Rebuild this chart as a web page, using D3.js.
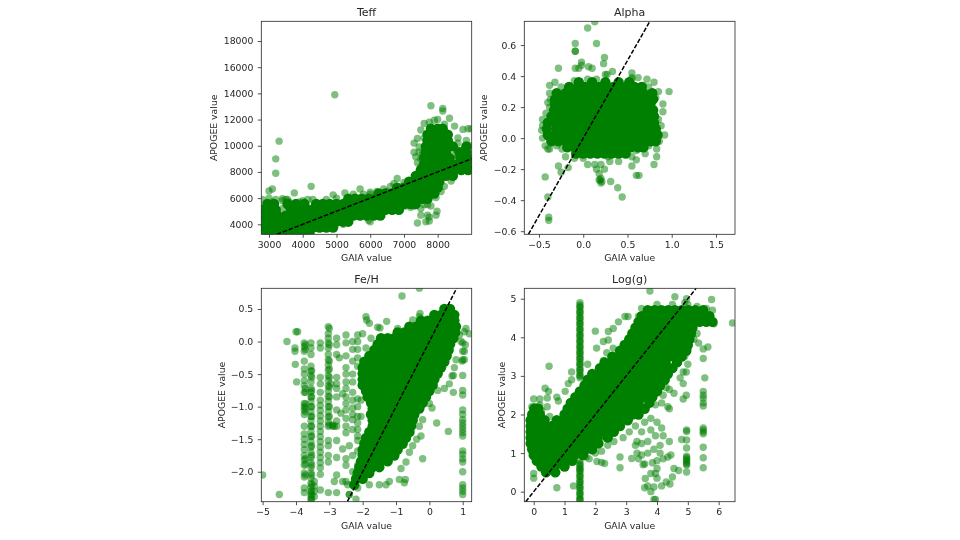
<!DOCTYPE html>
<html>
<head>
<meta charset="utf-8">
<script src="https://cdnjs.cloudflare.com/ajax/libs/d3/7.8.5/d3.min.js"></script>
<style>
  html, body { margin: 0; background: #fff; }
  svg { display: block; filter: blur(0.7px); }
  text { font-family: "DejaVu Sans", sans-serif; fill: #262626; }
</style>
</head>
<body>
<script>
const width = 960;
const height = 540;

const titles = ['Teff', 'Alpha', 'Fe/H', 'Log(g)'];

// overplotted core of each cloud: rows of [apogee, gaia, gaia, ...]
const teffDense = [
  [3300,2800,3000,3200,3400,3600,3800,4000,4200],
  [3750,2900,3100,3300,3500,3700,3900,4100,4300,4500,4700,4900],
  [4200,2800,3000,3200,3400,3600,3800,4000,4200,4400,4600,4800,5000,5200,5350],
  [4660,2850,3050,3250,3500,3700,3900,4100,4300,4500,4700,4900,5100,5300,5500,5700,5900,6100,6300],
  [5100,2800,3000,3200,3650,3850,4050,4250,4450,4650,4850,5050,5250,5450,5650,5850,6050,6250,6450,6650,6850],
  [5550,2950,3150,3550,3800,4050,4400,4600,4800,5000,5200,5400,5600,5800,6000,6200,6400,6600,6800,7000,7200,7350],
  [5950,5350,5550,5750,5950,6150,6350,6550,6750,6950,7150,7350,7550,7700],
  [6350,6250,6450,6650,6850,7050,7250,7450,7650,7900],
  [6800,6800,7000,7200,7400,7600,7800,8000],
  [7250,7150,7350,7550,7750,7950,8050],
  [7700,7350,7550,7750,7950,8050,8250,8450],
  [8150,7500,7700,7900,8100,8300,8500,8700,8900],
  [8600,7600,7800,8000,8200,8400,8600,8800,8950],
  [9050,7600,7800,8000,8200,8350,8700,8900],
  [9500,7650,7850,8050,8250,8650,8850],
  [9950,7650,7850,8050,8250,8450,8850],
  [10400,7700,7900,8100,8300],
  [10850,7700,7900,8100,8300],
  [11300,7800,8000,8150]
];
const alphaDense = [
  [0.36,-0.05,0.10,0.25,0.40,0.52],
  [0.33,-0.16,-0.06,0.02,0.10,0.18,0.26,0.34,0.42,0.50,0.58,0.66],
  [0.29,-0.30,-0.20,-0.12,-0.04,0.04,0.12,0.20,0.28,0.36,0.44,0.52,0.60,0.68,0.78],
  [0.25,-0.32,-0.24,-0.16,-0.08,0,0.08,0.16,0.24,0.32,0.40,0.48,0.56,0.64,0.72,0.79],
  [0.22,-0.32,-0.26,-0.20,-0.12,-0.04,0.04,0.12,0.20,0.28,0.36,0.44,0.52,0.60,0.68,0.76],
  [0.18,-0.33,-0.24,-0.16,-0.08,0,0.08,0.16,0.24,0.32,0.40,0.48,0.56,0.64,0.72,0.79],
  [0.14,-0.36,-0.28,-0.20,-0.12,-0.04,0.04,0.12,0.20,0.28,0.36,0.44,0.52,0.60,0.68,0.76,0.80],
  [0.10,-0.40,-0.32,-0.24,-0.16,-0.08,0,0.08,0.16,0.24,0.32,0.40,0.48,0.56,0.64,0.72,0.80],
  [0.06,-0.41,-0.30,-0.22,-0.14,-0.06,0.02,0.10,0.18,0.26,0.34,0.42,0.50,0.58,0.66,0.74,0.82],
  [0.02,-0.40,-0.32,-0.24,-0.16,-0.08,0,0.08,0.16,0.24,0.32,0.40,0.48,0.56,0.64,0.72,0.78,0.84],
  [-0.02,-0.36,-0.28,-0.20,-0.12,-0.04,0.04,0.12,0.20,0.28,0.36,0.44,0.52,0.60,0.68,0.76,0.82],
  [-0.06,-0.18,-0.10,-0.02,0.06,0.14,0.22,0.30,0.38,0.46,0.54,0.62,0.68],
  [-0.10,-0.08,0,0.08,0.16,0.24,0.32,0.40,0.48]
];
const feDense = [
  [0.50,0.45,0.62],
  [0.41,0.15,0.35,0.55,0.75],
  [0.32,-0.25,-0.05,0.15,0.35,0.55,0.75],
  [0.23,-0.6,-0.4,-0.2,0,0.2,0.4,0.6,0.8],
  [0.14,-0.95,-0.75,-0.55,-0.35,-0.15,0.05,0.25,0.45,0.65,0.78],
  [0.05,-1.45,-1.25,-1.05,-0.85,-0.65,-0.45,-0.25,-0.05,0.15,0.35,0.55,0.72],
  [-0.04,-1.55,-1.35,-1.15,-0.95,-0.75,-0.55,-0.35,-0.15,0.05,0.25,0.45,0.62],
  [-0.13,-1.65,-1.45,-1.25,-1.05,-0.85,-0.65,-0.45,-0.25,-0.05,0.15,0.35,0.58],
  [-0.22,-1.8,-1.6,-1.4,-1.2,-1,-0.8,-0.6,-0.4,-0.2,0,0.2,0.4,0.52],
  [-0.31,-1.95,-1.75,-1.55,-1.35,-1.15,-0.95,-0.75,-0.55,-0.35,-0.15,0.05,0.25,0.45],
  [-0.40,-2,-1.8,-1.6,-1.4,-1.2,-1,-0.8,-0.6,-0.4,-0.2,0,0.2,0.35],
  [-0.49,-2,-1.85,-1.65,-1.45,-1.25,-1.05,-0.85,-0.65,-0.45,-0.25,-0.05,0.15,0.25],
  [-0.58,-2,-1.8,-1.6,-1.4,-1.2,-1,-0.8,-0.6,-0.4,-0.2,0,0.15],
  [-0.67,-2,-1.85,-1.65,-1.45,-1.25,-1.05,-0.85,-0.65,-0.45,-0.25,-0.05,0.1],
  [-0.76,-1.9,-1.7,-1.5,-1.3,-1.1,-0.9,-0.7,-0.5,-0.3,-0.1,0],
  [-0.85,-1.85,-1.65,-1.45,-1.25,-1.05,-0.85,-0.65,-0.45,-0.25,-0.1],
  [-0.94,-1.75,-1.55,-1.35,-1.15,-0.95,-0.75,-0.55,-0.35,-0.2],
  [-1.03,-1.7,-1.5,-1.3,-1.1,-0.9,-0.7,-0.5,-0.3],
  [-1.12,-1.75,-1.55,-1.35,-1.15,-0.95,-0.75,-0.55,-0.45],
  [-1.21,-1.7,-1.5,-1.3,-1.1,-0.9,-0.7,-0.5],
  [-1.30,-1.7,-1.55,-1.35,-1.15,-0.95,-0.75,-0.55],
  [-1.39,-1.8,-1.6,-1.4,-1.2,-1,-0.8,-0.6],
  [-1.48,-1.9,-1.7,-1.5,-1.3,-1.1,-0.9,-0.7],
  [-1.57,-1.95,-1.75,-1.55,-1.35,-1.15,-0.95,-0.8],
  [-1.66,-2,-1.8,-1.6,-1.4,-1.2,-1,-0.95],
  [-1.75,-2,-1.85,-1.65,-1.45,-1.25,-1.05],
  [-1.84,-2.05,-1.85,-1.65,-1.45,-1.25],
  [-1.93,-2.1,-1.9,-1.7,-1.5],
  [-2.02,-2.15,-1.95,-1.8],
  [-2.11,-2.2,-2],
  [-2.20,-2.25]
];
const loggDense = [
  [4.70,3.7,3.92,4.14,4.36,4.58,4.8,5.02,5.24,5.5],
  [4.55,3.5,3.72,3.94,4.16,4.38,4.6,4.82,5.04,5.26,5.48,5.7],
  [4.40,3.4,3.62,3.84,4.06,4.28,4.5,4.72,4.94,5.16,5.38,5.6,5.8],
  [4.25,3.3,3.52,3.74,3.96,4.18,4.4,4.62,4.84,5.15],
  [4.10,3.2,3.42,3.64,3.86,4.08,4.3,4.52,4.74,4.96,5.1],
  [3.95,3.1,3.32,3.54,3.76,3.98,4.2,4.42,4.64,4.86,5.05],
  [3.80,2.95,3.17,3.39,3.61,3.83,4.05,4.27,4.49,4.71,5],
  [3.65,2.8,3.02,3.24,3.46,3.68,3.9,4.12,4.34,4.56,4.78,4.95],
  [3.50,2.55,2.77,2.99,3.21,3.43,3.65,3.87,4.09,4.31,4.53,4.8],
  [3.35,2.3,2.52,2.74,2.96,3.18,3.4,3.62,3.84,4.06,4.28,4.65],
  [3.20,2.15,2.37,2.59,2.81,3.03,3.25,3.47,3.69,3.91,4.13,4.35,4.5],
  [3.05,1.9,2.12,2.34,2.56,2.78,3,3.22,3.44,3.66,3.88,4.1,4.35],
  [2.90,1.75,1.97,2.19,2.41,2.63,2.85,3.07,3.29,3.51,3.73,3.95,4.25],
  [2.75,1.65,1.87,2.09,2.31,2.53,2.75,2.97,3.19,3.41,3.63,3.85,4.1],
  [2.60,1.5,1.72,1.94,2.16,2.38,2.6,2.82,3.04,3.26,3.48,3.7,4],
  [2.45,1.35,1.57,1.79,2.01,2.23,2.45,2.67,2.89,3.11,3.33,3.55,3.85],
  [2.30,1.2,1.42,1.64,1.86,2.08,2.3,2.52,2.74,2.96,3.18,3.4,3.75],
  [2.15,0.02,0.15,1.1,1.32,1.54,1.76,1.98,2.2,2.42,2.64,2.86,3.08,3.3,3.6],
  [2.00,-0.05,0.2,1,1.22,1.44,1.66,1.88,2.1,2.32,2.54,2.76,2.98,3.2,3.4],
  [1.85,-0.1,0.1,0.35,0.75,0.97,1.19,1.41,1.63,1.85,2.07,2.29,2.51,2.73,3.05],
  [1.70,-0.1,0.12,0.4,0.6,0.82,1.04,1.26,1.48,1.7,1.92,2.14,2.36,2.58,2.8],
  [1.55,-0.1,0.12,0.34,0.56,0.78,1,1.22,1.44,1.66,1.88,2.1,2.32,2.6],
  [1.40,-0.1,0.1,0.32,0.54,0.76,0.98,1.2,1.42,1.64,1.86,2.08,2.4],
  [1.25,-0.1,0.12,0.34,0.56,0.78,1,1.22,1.44,1.66,1.88,2.1],
  [1.10,-0.05,0.15,0.37,0.59,0.81,1.03,1.25,1.47,1.69,1.9],
  [0.95,0,0.22,0.44,0.66,0.88,1.1,1.32,1.6],
  [0.80,0.1,0.32,0.54,0.76,0.98,1.25],
  [0.65,0.25,0.47,0.69,1],
  [0.50,0.4,0.7]
];

// single points around the cores: [gaia, apogee]
const teffScatter = [
  [4950,13900],[3300,10350],[3200,9000],[3200,7900],[7800,13050],[8150,12850],[8150,12650],[8350,12100],
  [8500,11500],[7600,11700],[7750,11800],[7900,11950],[8000,12000],[8200,11650],[7400,10550],[7300,10200],
  [7300,9500],[7350,9150],[7400,8700],[7500,8400],[7450,9900],[7550,9400],[7600,10600],[7500,11200],
  [8750,11250],[8900,11300],[8990,11300],[8600,10200],[8800,9800],[8850,10400],[8950,10000],[8600,9200],
  [7400,4100],[7500,4700],[7650,4200],[7700,4700],[7750,4250],[7750,4550],[7950,4700],[7980,5000],
  [7600,5500],[7700,5500],[7800,5400],[7500,5200],[7250,5500],[7300,5400],[4250,6900],[3750,6400],
  [3100,6700],[3000,6550],[2800,5900],[3400,5950],[3000,6000],[3100,5700],[3200,5900],[3500,5900],
  [3600,5700],[3900,5700],[4300,5900],[4500,5600],[4900,6250],[5250,6400],[5700,6700],[6000,6450],
  [6500,6500],[6800,7500],[6700,7100],[7000,7200],[6300,6350],[5200,4000],[4950,4200],[5950,4300],
  [6000,4200],[6300,4800],[6800,5050],[7050,5400],[7200,5300],[3000,5300],[3400,5200],[3700,5000],
  [3500,4500],[3300,4700],[8200,6900],[8100,6500],[8400,7300],[8700,8150],[8900,8300],[7950,6050],
  [3400,5800],[3550,5900],[4000,5800],[4150,5900],[4350,5600],[4700,5900],[5000,6000],[5500,6300],
  [5800,6300],[6200,6500],[6000,6300],[6600,6900],[6400,6700],[7500,9000],[7450,9500],[8500,8950],
  [8600,10600],[8500,9300],[8550,9700]
];
const alphaScatter = [
  [0.13,0.75],[0.05,0.71],[-0.09,0.61],[0.15,0.61],[-0.09,0.56],[-0.09,0.56],[0.24,0.52],[0.23,0.48],
  [-0.02,0.49],[-0.02,0.47],[-0.05,0.45],[-0.09,0.45],[-0.28,0.45],[0.06,0.46],[0.10,0.45],[0.25,0.41],
  [0.27,0.41],[0.33,0.43],[0.55,0.42],[0.55,0.39],[0.55,0.38],[0.62,0.39],[0.72,0.38],[0.80,0.36],
  [0.97,0.30],[0.90,0.22],[0.90,0.17],[0.85,0.30],[-0.38,0.34],[-0.32,0.36],[-0.25,0.33],[-0.10,0.37],
  [0.05,0.38],[0.15,0.38],[-0.38,0.29],[-0.40,0.23],[-0.38,0.20],[-0.46,0.12],[-0.46,0.08],[-0.47,0.05],
  [-0.46,0],[-0.43,-0.05],[-0.40,-0.07],[-0.38,-0.07],[0.88,0.08],[0.92,0.02],[0.83,0.05],[0.83,-0.07],
  [0.83,-0.12],[0.80,-0.17],[0.60,-0.08],[0.55,-0.12],[0.70,-0.10],[0.60,-0.14],[0.55,-0.18],[0.60,-0.24],
  [0.63,-0.24],[0.28,-0.12],[0.30,-0.15],[0.40,-0.15],[0.05,-0.17],[0.13,-0.17],[0.20,-0.17],[-0.28,-0.18],
  [-0.25,-0.22],[-0.17,-0.19],[-0.20,-0.12],[-0.10,-0.13],[0,-0.13],[0.15,-0.20],[0.24,-0.20],[0.18,-0.23],
  [0.20,-0.26],[0.19,-0.27],[0.20,-0.29],[0.31,-0.28],[0.39,-0.32],[0.44,-0.38],[-0.43,-0.25],[-0.40,-0.38],
  [-0.39,-0.51],[-0.39,-0.53],[0.18,-0.27],[0.21,-0.28],[-0.30,-0.05],[-0.24,-0.07],[0.74,-0.05],[0.82,0.26],
  [0.85,0.12],[0.86,-0.02],[-0.37,0.25],[-0.42,0.16],[0.68,0.34],[0.74,0.33]
];
const feScatter = [
  [-5,-2.05],[-4.5,-2.35],[-4.27,0],[-4,0.15],[-3.95,0.15],[-3.98,-0.62],[-4.02,-0.35],[-4.03,-0.1],[-4.03,-0.15],
  [-2.9,-1.3],[-0.3,0.82],[-0.82,0.7],[-1.9,0.38],[-1.88,0.33],[-1.8,0.28],[-1.55,0.22],[-1.48,0.21],[-1.28,0.31],
  [-0.5,0.33],[-0.28,0.43],[-0.3,0.38],[-0.95,0.2],[1.1,0.2],[1.2,0.12],[1.05,0.15],[0.9,0.1],[0.95,0],
  [1.08,-0.05],[1.05,-0.15],[1.05,-0.28],[0.98,-0.3],[0.8,-0.28],[0.75,-0.4],[0.72,-0.52],[0.68,-0.53],[0.6,-0.65],
  [0.72,-0.78],[0.45,-0.72],[0.25,-0.75],[0.08,-1.02],[0.22,-1.25],[0.57,-1.38],[0,-0.95],[-0.2,-1.2],[-0.38,-1],
  [-0.25,-1.45],[-0.38,-1.5],[-0.5,-1.6],[-0.2,-1.8],[-0.6,-1.7],[-0.7,-1.85],[-0.85,-1.95],[-0.72,-2.12],[-0.9,-2.12],
  [-0.75,-2.17],[-1.2,-2.15],[-1.3,-2.2],[-1.5,-2.2],[-1.8,-2.2],[-2.2,-2.42],[-2.4,-2.35],[-2.4,-2.35],[-2.6,-2.15],
  [-2.45,-2.2],[-2.85,-2.15],[-2.6,-1.65],[-2.4,-1.6],[-2.7,-0.25],[-1.9,-0.1],[-1.75,0.05],[-2.0,0.12],
  [-2.9,-1.28],[-2.85,-1.3],[-2.95,-0.65],[-2.65,-1.1],[-2.6,-0.8],[-2.05,-1.15],[-2.05,-0.9],[-0.55,-1.4],[-0.3,-1.3]
];
const loggScatter = [
  [0.5,3.25],[1.23,3.1],[1.23,2.9],[1.12,2.8],[1.02,2.6],[0,2.4],[-0.06,2.2],[0.04,2.2],[0.2,2.4],[0.37,2.68],
  [0.48,2.6],[0.44,2.43],[0.75,2.45],[0.8,2.35],[0.26,2.1],[0.52,1.95],[0.2,2.25],[0.44,2.2],[2,4.16],[2.42,3.93],
  [2.26,3.89],[2.58,4.23],[2.42,4.15],[2.75,4.4],[2.96,4.54],[3.06,4.54],[2.04,3.72],[2.37,3.6],[2.58,3.72],[2.26,3.4],
  [1.75,3.3],[0.75,0.1],[1.29,0.15],[0,0.47],[0,0.35],[2.8,0.62],[2.3,0.73],[2.2,0.76],[2.05,0.78],[2.8,0.9],
  [3.18,0.86],[3.35,1.0],[3.35,1.3],[3.6,0.1],[3.7,0.15],[3.8,0],[3.9,0.12],[4.15,0.15],[4.3,0.25],[4.42,0.2],
  [4,0.35],[4.5,0.38],[3.62,0.34],[3.8,0.47],[3.95,0.47],[4,0.6],[4.55,0.6],[4.7,0.55],[3.55,0.7],[3.6,0.72],
  [3.85,0.75],[4,0.8],[4.2,0.85],[4.35,0.9],[4.45,0.95],[3.4,0.85],[3.5,0.95],[3.7,1],[3.9,1.1],[4.1,1.2],
  [4.1,1],[4.4,1.3],[3.3,1.2],[3.5,1.25],[3.7,1.3],[3.95,1.45],[4.2,1.45],[4.15,1.65],[3.8,1.6],[3.5,1.55],
  [3.3,1.7],[3.1,1.55],[2.9,1.4],[3.6,1.8],[4,1.8],[4.8,1.35],[3.9,-0.2],[3.95,-0.2],[4.75,2.95],[4.85,2.8],
  [4.85,3.1],[4.95,3.1],[4.95,2.5],[4.85,2.4],[5,3.3],[5,3.7],[4.9,3.5],[4.3,2.7],[4.2,2.5],[4.4,2.65],
  [4.55,2.55],[4.15,2.3],[3.95,2.25],[4.35,2.2],[4.4,2.15],[3.8,1.9],[5.2,3.95],[5.35,3.85],[5.5,3.7],[5.65,3.75],
  [5.5,3.45],[5.55,2.95],[5.3,4.1],[5.85,4.35],[5.1,4.3],[3.4,4.55],[3.5,4.75],[4,4.85],[4.5,4.85],[5,4.85],
  [5.3,4.8],[5.6,4.75],[5.8,4.7],[6.45,4.37],[5.77,4.98],[4.58,5.05],[4.96,5],[3.77,5.2],[4.9,4.9],
  [2.6,1.3],[2.4,1.2],[2.2,1.05],[2,1],[1.8,0.85],[1.5,0.6],[1.7,0.9]
];

// near vertical strips of points at repeated gaia values: [gaia, apogee, apogee, ...]
const teffStrips = [];
const alphaStrips = [];
const feStrips = [
  [-3.75,-0.02,-0.08,-0.15,-0.3,-0.42,-0.5,-0.6,-0.68,-0.78,-0.95,-1,-1.05,-1.12,-1.3,-1.42,-1.5,-1.58,-1.66,-1.75,-1.82,-1.9,-2.02,-2.08,-2.25,-2.32],
  [-3.72,-0.05,-0.12,-0.72,-0.78,-0.96,-1.02,-1.08,-1.8,-1.88,-2.05],
  [-3.55,-0.02,-0.1,-0.2,-0.38,-0.45,-0.52,-0.62,-0.72,-0.78,-0.85,-0.92,-1,-1.08,-1.15,-1.22,-1.3,-1.38,-1.46,-1.54,-1.62,-1.7,-1.78,-1.86,-1.94,-2.02,-2.1,-2.18,-2.24,-2.3,-2.35,-2.4,-2.44],
  [-3.53,-0.45,-0.55,-0.75,-0.85,-1,-1.15,-1.3,-1.45,-1.6,-1.75,-1.9,-2.05,-2.2,-2.3,-2.36,-2.42],
  [-3.45,-2.15,-2.22,-2.3,-2.38],
  [-3.27,-0.02,-0.1,-0.55,-0.65,-0.78,-0.9,-0.98,-1.06,-1.14,-1.22,-1.3,-1.38,-1.46,-1.54,-1.62,-1.7,-1.78,-1.86,-1.94,-2.04,-2.28],
  [-3.03,0.23,0.12,0.05,-0.02,-0.1,-0.2,-0.28,-0.36,-0.44,-0.52,-0.6,-0.68,-0.76,-0.84,-0.92,-1,-1.08,-1.16,-1.24,-1.3,-1.52,-1.6,-1.75,-1.85,-2.32],
  [-3,0.2,-0.05,-0.3,-0.42,-0.55,-0.7,-0.85,-1,-1.15,-1.28],
  [-2.78,0.05,-0.05,-0.2,-0.55,-0.65,-0.72,-0.85,-1.05,-1.22,-1.3,-1.52,-1.78,-2.05,-2.32],
  [-2.5,0.1,-0.02,-0.22,-0.4,-0.5,-0.62,-0.72,-0.85,-0.95,-1.05,-1.18,-1.3,-1.4,-1.8,-1.9,-2.15],
  [-2.3,0,-0.12,-0.3,-0.5,-0.62,-0.78,-0.9,-1.02,-1.12,-1.2,-1.35,-1.75,-2,-2.2],
  [-2.15,0.1,0,-0.12,-0.25,-0.38,-0.88,-1,-1.15,-1.25,-1.35,-1.45,-1.52,-1.68,-1.9,-2.05,-2.25],
  [1,-0.02,-0.15,-0.28,-0.52,-0.75,-0.82,-1.05,-1.12,-1.2,-1.25,-1.3,-1.35,-1.4,-1.45,-1.68,-1.73,-1.8,-1.85,-2,-2.2,-2.25,-2.3,-2.35]
];
const loggStrips = [
  [1.5,4.9,4.84,4.77,4.7,4.63,4.56,4.49,4.42,4.35,4.28,4.21,4.14,4.07,4,3.93,3.86,3.79,3.72,3.65,3.58,3.51,3.44,3.37,3.3,3.23,3.16,3.09,3.02,2.95,
    0.8,0.73,0.66,0.59,0.52,0.45,0.38,0.31,0.24,0.17,0.1,0.03,-0.04,-0.11,-0.18,-0.22],
  [1.5,4.8,4.65,4.5,4.35,4.2,4.05,3.9,3.75,3.6,3.45,3.3,3.15,3,0.7,0.55,0.4,0.25,0.1,-0.05,-0.2],
  [5.5,2.6,2.5,2.42,2.3,2.22,1.65,1.6,1.55,1.5,1.15,0.88,0.62],
  [4.96,1.6,1.56,1.34,1.13,0.92,0.88,0.84,0.8,0.76,0.72,0.69,0.51]
];

const teffXTicks = [3000, 4000, 5000, 6000, 7000, 8000];
const teffYTicks = [4000, 6000, 8000, 10000, 12000, 14000, 16000, 18000];
const alphaXTicks = [-0.5, 0, 0.5, 1, 1.5];
const alphaYTicks = [-0.6, -0.4, -0.2, 0, 0.2, 0.4, 0.6];
const feXTicks = [-5, -4, -3, -2, -1, 0, 1];
const feYTicks = [-2, -1.5, -1, -0.5, 0, 0.5];
const loggXTicks = [0, 1, 2, 3, 4, 5, 6];
const loggYTicks = [0, 1, 2, 3, 4, 5];

const minus = (s) => s.replace('-', '\u2212');

const panels = [
  { title: titles[0], dense: teffDense, scatter: teffScatter, strips: teffStrips,
    xd: [2772, 9008], yd: [3236, 19505], xt: teffXTicks, yt: teffYTicks, fx: (d) => d3.format('d')(d), fy: (d) => d3.format('d')(d),
    box: [261.3, 21.3, 471.7, 234.3], ylab: 214 },
  { title: titles[1], dense: alphaDense, scatter: alphaScatter, strips: alphaStrips,
    xd: [-0.666, 1.715], yd: [-0.62, 0.753], xt: alphaXTicks, yt: alphaYTicks, fx: (d) => minus(d3.format('.1f')(d)), fy: (d) => minus(d3.format('.1f')(d)),
    box: [524.3, 21.3, 735, 234.3], ylab: 484 },
  { title: titles[2], dense: feDense, scatter: feScatter, strips: feStrips,
    xd: [-5.04, 1.27], yd: [-2.46, 0.818], xt: feXTicks, yt: feYTicks, fx: (d) => minus(d3.format('d')(d)), fy: (d) => minus(d3.format('.1f')(d)),
    box: [261.3, 288.3, 471.7, 501.7], ylab: 222 },
  { title: titles[3], dense: loggDense, scatter: loggScatter, strips: loggStrips,
    xd: [-0.305, 6.53], yd: [-0.26, 5.27], xt: loggXTicks, yt: loggYTicks, fx: (d) => d3.format('d')(d), fy: (d) => d3.format('d')(d),
    box: [524.3, 288.3, 735, 501.7], ylab: 502 }
];

const svg = d3.select('body').append('svg')
    .attr('width', width)
    .attr('height', height);

panels.forEach((p, i) => {
  const [x0, y0, x1, y1] = p.box;
  const x = d3.scaleLinear().domain(p.xd).range([x0, x1]);
  const y = d3.scaleLinear().domain(p.yd).range([y1, y0]);

  svg.append('clipPath').attr('id', 'clip' + i)
    .append('rect')
    .attr('x', x0).attr('y', y0)
    .attr('width', x1 - x0).attr('height', y1 - y0);

  const plot = svg.append('g').attr('clip-path', `url(#clip${i})`);

  const densePoints = p.dense.flatMap(([v, ...xs]) => xs.map((u) => [u, v]));
  const stripPoints = p.strips.flatMap(([u, ...vs]) => vs.map((v) => [u, v]));

  plot.selectAll('.dense').data(densePoints).join('circle')
    .attr('class', 'dense')
    .attr('cx', (d) => x(d[0]))
    .attr('cy', (d) => y(d[1]))
    .attr('r', 5.2)
    .attr('fill', '#008000');

  plot.selectAll('.single').data(p.scatter.concat(stripPoints)).join('circle')
    .attr('class', 'single')
    .attr('cx', (d) => x(d[0]))
    .attr('cy', (d) => y(d[1]))
    .attr('r', 3.7)
    .attr('fill', '#008000')
    .attr('fill-opacity', 0.5);

  // y = x reference line
  const lo = Math.max(p.xd[0], p.yd[0]);
  const hi = Math.min(p.xd[1], p.yd[1]);
  plot.append('path')
    .attr('d', d3.line().x((d) => x(d)).y((d) => y(d))([lo, hi]))
    .attr('fill', 'none')
    .attr('stroke', '#000')
    .attr('stroke-width', 1.5)
    .attr('stroke-dasharray', '4.5,1.8');

  const xAxis = d3.axisBottom(x).tickValues(p.xt).tickFormat(p.fx).tickSize(3.5).tickPadding(3.5);
  const yAxis = d3.axisLeft(y).tickValues(p.yt).tickFormat(p.fy).tickSize(3.5).tickPadding(4.5);

  const gx = svg.append('g').attr('transform', `translate(0,${y1})`).call(xAxis);
  const gy = svg.append('g').attr('transform', `translate(${x0},0)`).call(yAxis);
  [gx, gy].forEach((g) => {
    g.select('.domain').remove();
    g.selectAll('line').attr('stroke', '#262626').attr('stroke-width', 0.8);
    g.selectAll('text').attr('font-size', 9.3).attr('font-family', '"DejaVu Sans", sans-serif');
  });

  svg.append('rect')
    .attr('x', x0).attr('y', y0)
    .attr('width', x1 - x0).attr('height', y1 - y0)
    .attr('fill', 'none')
    .attr('stroke', '#262626')
    .attr('stroke-width', 0.8);

  const cx = (x0 + x1) / 2;
  svg.append('text').attr('x', cx).attr('y', y0 - 5.5)
    .attr('text-anchor', 'middle').attr('font-size', 11)
    .text(p.title);
  svg.append('text').attr('x', cx).attr('y', y1 + 27)
    .attr('text-anchor', 'middle').attr('font-size', 9.3)
    .text('GAIA value');
  svg.append('text')
    .attr('transform', `translate(${p.ylab + 3},${(y0 + y1) / 2}) rotate(-90)`)
    .attr('text-anchor', 'middle').attr('font-size', 9.3)
    .text('APOGEE value');
});
</script>
</body>
</html>
